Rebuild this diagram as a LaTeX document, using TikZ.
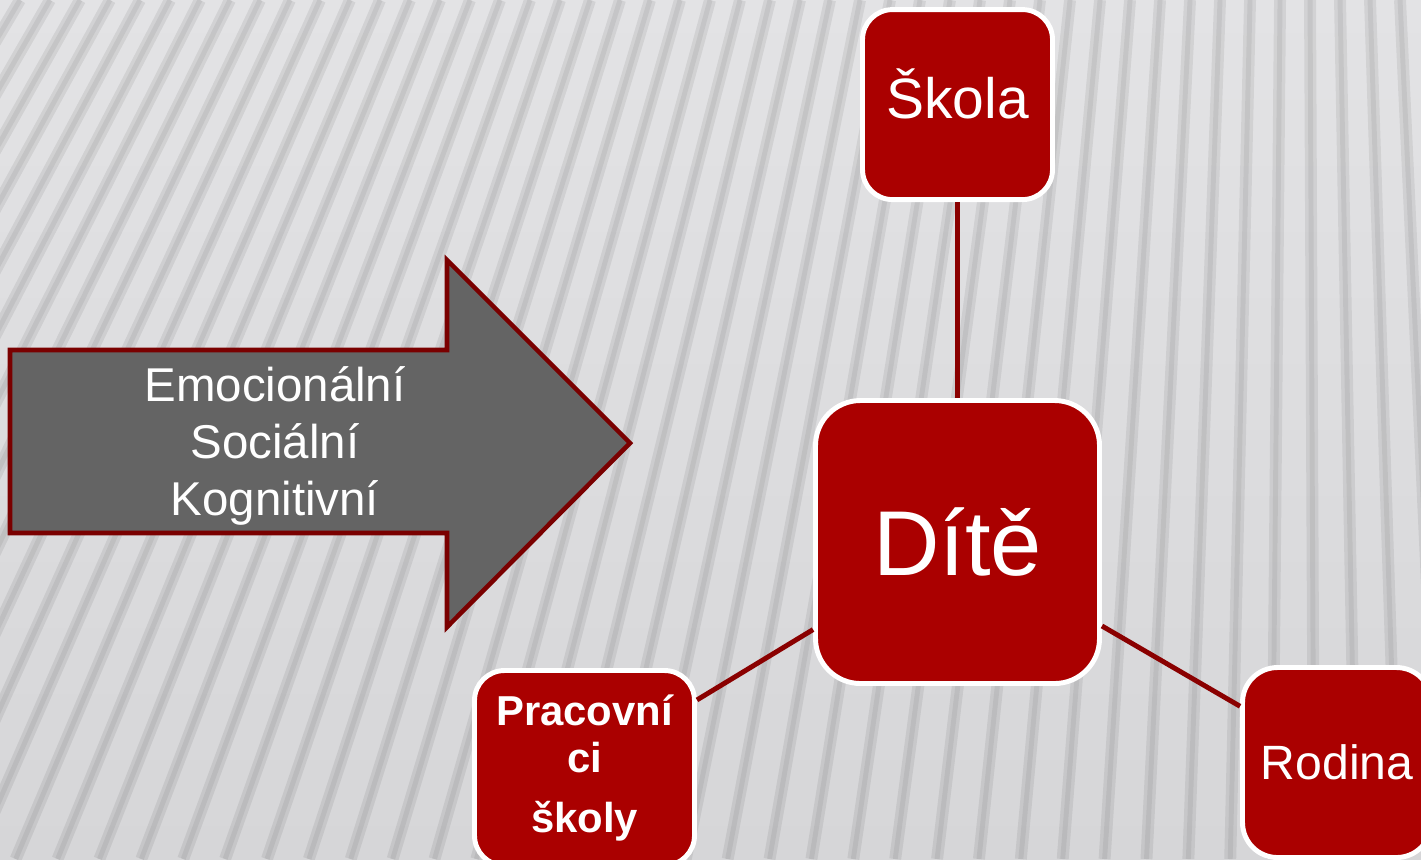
\documentclass[tikz,border=0pt]{standalone}
\usepackage{fontspec}
\setmainfont{Liberation Sans}
\usepackage{tikz}
\usetikzlibrary{positioning}
\definecolor{boxred}{HTML}{AA0000}
\definecolor{linkred}{HTML}{8A0000}
\definecolor{arrowred}{HTML}{7A0000}
\definecolor{arrowgray}{HTML}{646464}
\definecolor{backtop}{HTML}{E3E3E5}
\definecolor{backbottom}{HTML}{D6D6D8}
\tikzstyle{box} = [rectangle, rounded corners=0.3cm, fill=boxred, draw=white, line width=1.4pt, text=white, align=center, inner sep=0pt]
\tikzstyle{link} = [draw=linkred, line width=1.4pt]
\tikzstyle{stripe} = [draw=black, draw opacity=0.07, line width=3.4pt]
\tikzstyle{stripecore} = [draw=black, draw opacity=0.06, line width=1.4pt]
\tikzstyle{bigarrow} = [fill=arrowgray, draw=arrowred, line width=1.3pt]

\begin{document}
\begin{tikzpicture}
    \useasboundingbox (0,0) rectangle (14.21,-8.59);
    \clip (0,0) rectangle (14.21,-8.59);
    \shade [top color=backtop, bottom color=backbottom] (0,0) rectangle (14.21,-8.59);
    \foreach \t in {-4,-3.7,...,14.5} {
      \draw [stripe] (\t,0) -- ({13+1.396*(\t-13)},-8.59);
      \draw [stripecore] (\t,0) -- ({13+1.396*(\t-13)},-8.59);
    }

    \draw [bigarrow] (0.10,-3.50) -- (4.47,-3.50) -- (4.47,-2.60) -- (6.30,-4.43)
      -- (4.47,-6.27) -- (4.47,-5.33) -- (0.10,-5.33) -- cycle;
    \node (oblasti) [text=white, align=center, font=\fontsize{13.5}{16.2}\selectfont] at (2.75,-4.46) {Emocionální\\Sociální\\Kognitivní};

    \node (dite) [box, rounded corners=0.45cm, minimum width=2.84cm, minimum height=2.83cm, font=\fontsize{26.2}{30}\selectfont] at (9.575,-5.42) {Dítě};

    \node (skola) [box, minimum width=1.90cm, minimum height=1.90cm, text height=0.78em, text depth=0pt, above=1.96cm of dite, font=\fontsize{16.2}{19}\selectfont] {Škola};
    \draw [link] (skola) -- (dite);

    \node (pracovnici) [box, minimum width=2.20cm, minimum height=1.95cm, font=\bfseries\fontsize{11.9}{13.1}\selectfont] at (5.845,-7.68) {Pracovní\\ci\\[0.14cm]školy};
    \draw [link] (dite) -- (pracovnici);

    \node (rodina) [box, rounded corners=0.35cm, minimum width=1.89cm, minimum height=1.90cm, font=\fontsize{13.7}{16}\selectfont] at (13.37,-7.625) {Rodina};
    \draw [link] (dite) -- (rodina);

  \end{tikzpicture}
\end{document}
